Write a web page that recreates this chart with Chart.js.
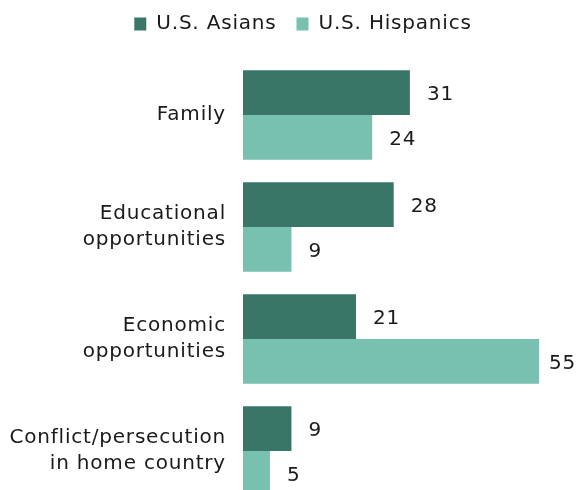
<!DOCTYPE html>
<html>
<head>
<meta charset="utf-8">
<script src="https://cdn.jsdelivr.net/npm/chart.js"></script>
<style>
  html, body { margin: 0; padding: 0; background: #fff; overflow: hidden; }
  #wrap { width: 578px; height: 537px; }
</style>
</head>
<body>
<div id="wrap"><canvas id="chart"></canvas></div>
<script>
const categories = ["Family", ["Educational", "opportunities"], ["Economic", "opportunities"], ["Conflict/persecution", "in home country"]];
const asians = [31, 28, 21, 9];
const hispanics = [24, 9, 55, 5];
const seriesNames = ["U.S. Asians", "U.S. Hispanics"];

const FONT = "'DejaVu Sans', Verdana, sans-serif";
const SPACING = "0.8px";

const valueLabels = {
  id: "valueLabels",
  afterDatasetsDraw(chart) {
    const ctx = chart.ctx;
    ctx.save();
    ctx.font = "20px " + FONT;
    ctx.fillStyle = "#1a1a1a";
    ctx.textAlign = "left";
    ctx.textBaseline = "middle";
    chart.data.datasets.forEach((ds, i) => {
      chart.getDatasetMeta(i).data.forEach((bar, j) => {
        const txt = String(ds.data[j]);
        const w = ctx.measureText(txt).width;
        const x = Math.min(bar.x + 17, chart.width - w - 2);
        ctx.fillText(txt, x, bar.y + 2);
      });
    });
    ctx.restore();
  }
};

// canvas resize resets the context, so set spacing before layout and draw
const spacing = {
  id: "spacing",
  beforeUpdate(chart) { chart.ctx.letterSpacing = SPACING; },
  beforeRender(chart) { chart.ctx.letterSpacing = SPACING; }
};

// extra room under the legend, and legend nudged right like the original
const legendTweak = {
  id: "legendTweak",
  beforeInit(chart) {
    const lg = chart.legend;
    const fit = lg.fit;
    lg.fit = function () {
      fit.bind(lg)();
      this.height += 15;
    };
    const draw = lg.draw;
    lg.draw = function () {
      chart.ctx.save();
      chart.ctx.translate(20, 0);
      draw.bind(lg)();
      chart.ctx.restore();
    };
  }
};

new Chart(document.getElementById("chart"), {
  type: "bar",
  data: {
    labels: categories,
    datasets: [
      { label: seriesNames[0], data: asians, backgroundColor: "rgb(58,118,104)" },
      { label: seriesNames[1], data: hispanics, backgroundColor: "rgb(120,192,176)" }
    ]
  },
  options: {
    indexAxis: "y",
    responsive: true,
    maintainAspectRatio: false,
    animation: false,
    layout: { padding: { right: 12, bottom: 13, top: -6 } },
    datasets: { bar: { categoryPercentage: 0.8, barPercentage: 1.0 } },
    scales: {
      x: { display: false, min: 0, max: 60 },
      y: {
        grid: { display: false, drawTicks: false },
        border: { display: false },
        afterFit(scale) { scale.width = 243; },
        ticks: {
          padding: 17,
          color: "#1a1a1a",
          font: { family: FONT, size: 20, lineHeight: 1.3 }
        }
      }
    },
    plugins: {
      legend: {
        position: "top",
        labels: {
          boxWidth: 12,
          boxHeight: 13,
          padding: 20,
          color: "#1a1a1a",
          font: { family: FONT, size: 20 }
        }
      },
      tooltip: { enabled: false }
    }
  },
  plugins: [spacing, legendTweak, valueLabels]
});
</script>
</body>
</html>
